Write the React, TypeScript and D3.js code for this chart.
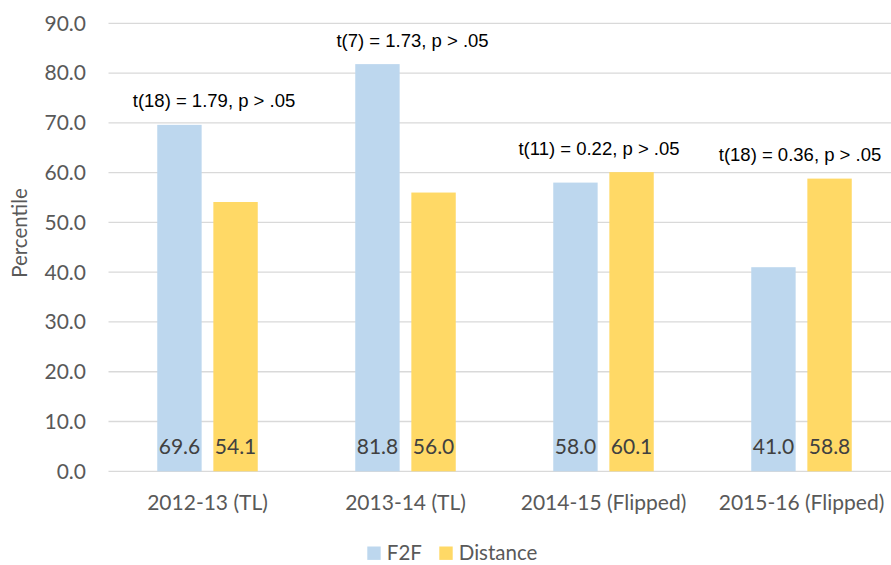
import { useEffect, useRef } from 'react';
import * as d3 from 'd3';

const categories = ['2012-13 (TL)', '2013-14 (TL)', '2014-15 (Flipped)', '2015-16 (Flipped)'];
const series = ['F2F', 'Distance'];
const f2f = [69.6, 81.8, 58.0, 41.0];
const distance = [54.1, 56.0, 60.1, 58.8];
const tests = ['t(18) = 1.79, p > .05', 't(7) = 1.73, p > .05', 't(11) = 0.22, p > .05', 't(18) = 0.36, p > .05'];
const yTicks = [0, 10, 20, 30, 40, 50, 60, 70, 80, 90];

const colors = { F2F: '#BDD7EE', Distance: '#FFD966' };

const App = () => {
  const ref = useRef(null);
  const size = { width: 891, height: 565 };
  const margin = { left: 108.5, right: -9.5, top: 23.3, bottom: 93.7 };

  useEffect(() => {
    const svg = d3.select(ref.current);
    svg.selectAll('*').remove();
    svg.attr('width', size.width).attr('height', size.height);

    const font = 'Lato, Carlito, sans-serif';
    const x = d3
      .scaleBand()
      .domain(categories)
      .range([margin.left, size.width - margin.right])
      .padding(0);
    const inner = d3.scaleBand().domain(series).range([-50.25, 50.25]).paddingInner(0.2086);
    const y = d3
      .scaleLinear()
      .domain([0, 90])
      .range([size.height - margin.bottom, margin.top]);

    // gridlines
    svg
      .append('g')
      .selectAll('line')
      .data(yTicks)
      .enter()
      .append('line')
      .attr('x1', margin.left)
      .attr('x2', size.width)
      .attr('y1', (d) => y(d))
      .attr('y2', (d) => y(d))
      .attr('stroke', '#D9D9D9')
      .attr('stroke-width', 1.3);

    // y tick labels
    svg
      .append('g')
      .selectAll('text')
      .data(yTicks)
      .enter()
      .append('text')
      .attr('x', 86)
      .attr('y', (d) => y(d))
      .attr('dy', '0.35em')
      .attr('text-anchor', 'end')
      .style('font-family', font)
      .style('font-size', '21px')
      .attr('fill', '#595959')
      .text((d) => d3.format('.1f')(d));

    const rows = categories.map((c, i) => ({ cat: c, F2F: f2f[i], Distance: distance[i], test: tests[i] }));

    const groups = svg
      .append('g')
      .selectAll('g')
      .data(rows)
      .enter()
      .append('g')
      .attr('transform', (d) => `translate(${x(d.cat) + x.bandwidth() / 2},0)`);

    groups
      .selectAll('rect')
      .data((d) => series.map((s) => ({ s, v: d[s] })))
      .enter()
      .append('rect')
      .attr('x', (d) => inner(d.s))
      .attr('width', inner.bandwidth())
      .attr('y', (d) => y(d.v))
      .attr('height', (d) => y(0) - y(d.v))
      .attr('fill', (d) => colors[d.s]);

    groups
      .selectAll('.lbl')
      .data((d) => series.map((s) => ({ s, v: d[s] })))
      .enter()
      .append('text')
      .attr('class', 'lbl')
      .attr('x', (d) => inner(d.s) + inner.bandwidth() / 2)
      .attr('y', y(0) - 25)
      .attr('dy', '0.35em')
      .attr('text-anchor', 'middle')
      .style('font-family', font)
      .style('font-size', '21px')
      .attr('fill', '#404040')
      .text((d) => d3.format('.1f')(d.v));

    const nudge = [6.5, 7, -4.5, -1.5];
    groups
      .append('text')
      .attr('x', (d, i) => nudge[i])
      .attr('y', (d) => y(Math.max(d.F2F, d.Distance)) - 24)
      .attr('dy', '0.35em')
      .attr('text-anchor', 'middle')
      .style('font-family', 'Liberation Sans, Arial, sans-serif')
      .style('font-size', '18.5px')
      .attr('fill', '#000000')
      .text((d) => d.test);

    // x labels
    svg
      .append('g')
      .selectAll('text')
      .data(categories)
      .enter()
      .append('text')
      .attr('x', (d) => x(d) + x.bandwidth() / 2)
      .attr('y', 503)
      .attr('dy', '0.35em')
      .attr('text-anchor', 'middle')
      .style('font-family', font)
      .style('font-size', '21px')
      .attr('fill', '#595959')
      .text((d) => d);

    // y title
    svg
      .append('text')
      .attr('transform', 'translate(20,233) rotate(-90)')
      .attr('dy', '0.35em')
      .attr('text-anchor', 'middle')
      .style('font-family', font)
      .style('font-size', '20.5px')
      .attr('fill', '#595959')
      .text('Percentile');

    // legend
    const legendX = [367.3, 439.3];
    const legend = svg
      .append('g')
      .selectAll('g')
      .data(series)
      .enter()
      .append('g')
      .attr('transform', (d, i) => `translate(${legendX[i]},546.5)`);
    legend
      .append('rect')
      .attr('width', 13.4)
      .attr('height', 13.4)
      .attr('fill', (d) => colors[d]);
    legend
      .append('text')
      .attr('x', 19.5)
      .attr('y', 6.7)
      .attr('dy', '0.35em')
      .style('font-family', font)
      .style('font-size', '20.5px')
      .attr('fill', '#595959')
      .text((d) => d);
  }, []);

  return (
    <div style={{ position: 'absolute', left: 0, top: 0 }}>
      <svg ref={ref} style={{ display: 'block' }} />
    </div>
  );
};

export default App;
